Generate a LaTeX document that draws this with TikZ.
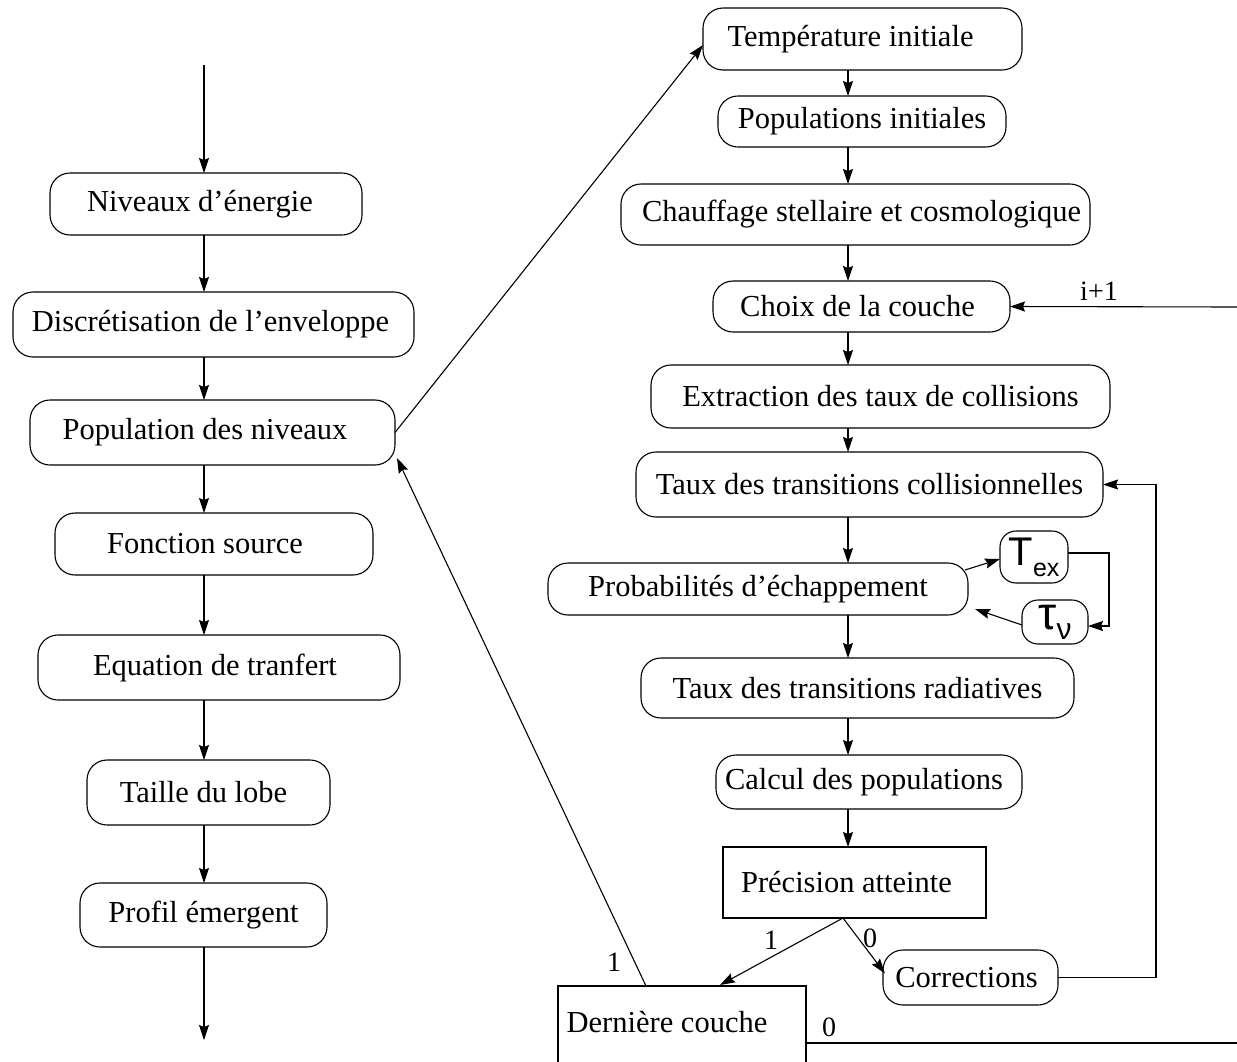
\documentclass[tikz,border=0pt]{standalone}
\usepackage{fontspec}
\setmainfont{Liberation Serif}
\newfontfamily\sff{Liberation Sans}
\usetikzlibrary{arrows.meta,calc}
\newcommand{\shx}[1]{\hspace*{#1pt}}
\begin{document}
\begin{tikzpicture}[x=1pt,y=-1pt,
  every node/.style={inner sep=0pt,outer sep=0pt,font=\fontsize{30.5}{32}\selectfont},
  rbox/.style={draw,line width=1.1pt,rounded corners=20pt},
  sbox/.style={draw,line width=1.1pt},
  arr/.style={line width=1.1pt,-{Stealth[length=15pt,width=10pt,inset=2pt]}},
  ln/.style={line width=1.1pt},
  lab/.style={font=\fontsize{28}{30}\selectfont}]
\useasboundingbox (0,0) rectangle (1237,1061);
% left column
\node[rbox,minimum width=312,minimum height=62] (nive) at (206,204) {\shx{-12}Niveaux d’énergie};
\node[rbox,minimum width=401,minimum height=65] (disc) at (213.5,324.5) {\shx{-6}Discrétisation de l’enveloppe};
\node[rbox,minimum width=365,minimum height=65] (popn) at (212.5,432.5) {\shx{-15}Population des niveaux};
\node[rbox,minimum width=318,minimum height=62] (fons) at (214,544) {\shx{-18}Fonction source};
\node[rbox,minimum width=362,minimum height=65] (equa) at (219,667.5) {\shx{-8}Equation de tranfert};
\node[rbox,minimum width=243,minimum height=65] (tail) at (208.5,792.5) {\shx{-10}Taille du lobe};
\node[rbox,minimum width=247,minimum height=64] (prof) at (203.5,915) {Profil émergent};
\coordinate (xl) at (204,0);
\coordinate (topin) at (204,65);
\coordinate (botout) at (204,1040);
\draw[arr] (topin) -- (nive.north -| xl);
\draw[arr] (nive.south -| xl) -- (disc.north -| xl);
\draw[arr] (disc.south -| xl) -- (popn.north -| xl);
\draw[arr] (popn.south -| xl) -- (fons.north -| xl);
\draw[arr] (fons.south -| xl) -- (equa.north -| xl);
\draw[arr] (equa.south -| xl) -- (tail.north -| xl);
\draw[arr] (tail.south -| xl) -- (prof.north -| xl);
\draw[arr] (prof.south -| xl) -- (botout);
% right column
\node[rbox,minimum width=319,minimum height=62] (temp) at (862.5,39) {\shx{-24}Température initiale};
\node[rbox,minimum width=288,minimum height=51] (popi) at (862,121.5) {Populations initiales};
\node[rbox,minimum width=469,minimum height=61] (chau) at (855.5,214.5) {\shx{12}Chauffage stellaire et cosmologique};
\node[rbox,minimum width=297,minimum height=51] (choi) at (861.5,306.5) {\shx{-8}Choix de la couche};
\node[rbox,minimum width=459,minimum height=63] (extr) at (880.5,396.5) {Extraction des taux de collisions};
\node[rbox,minimum width=467,minimum height=65] (tcol) at (869.5,484.5) {Taux des transitions collisionnelles};
\node[rbox,minimum width=420,minimum height=52] (prob) at (758,589) {Probabilités d’échappement};
\node[rbox,minimum width=433,minimum height=60] (trad) at (857.5,688) {Taux des transitions radiatives};
\node[rbox,minimum width=306,minimum height=54] (calc) at (869,782) {\shx{-10}Calcul des populations};
\node[sbox,minimum width=263,minimum height=71] (prec) at (854.5,882.5) {\shx{-16}Précision atteinte};
\node[rbox,minimum width=175,minimum height=55] (corr) at (970.5,977.5) {\shx{-8}Corrections};
\node[sbox,minimum width=248,minimum height=120,anchor=north] (dern) at (682,986) {};
\node (dernt) at (667,1022) {Dernière couche};
\node[rbox,rounded corners=16pt,minimum width=68,minimum height=52] (tex) at (1034,557) {\sff\fontsize{40}{42}\selectfont T\raisebox{-0.28em}{\fontsize{25}{27}\selectfont ex}};
\node[rbox,rounded corners=16pt,minimum width=66,minimum height=44] (tau) at (1055,622) {\sff\fontsize{46}{48}\selectfont τ\raisebox{-0.22em}{\fontsize{30}{32}\selectfont ν}};
\coordinate (xr) at (848,0);
\draw[arr] (temp.south -| xr) -- (popi.north -| xr);
\draw[arr] (popi.south -| xr) -- (chau.north -| xr);
\draw[arr] (chau.south -| xr) -- (choi.north -| xr);
\draw[arr] (choi.south -| xr) -- (extr.north -| xr);
\draw[arr] (extr.south -| xr) -- (tcol.north -| xr);
\draw[arr] (tcol.south -| xr) -- (prob.north -| xr);
\draw[arr] (prob.south -| xr) -- (trad.north -| xr);
\draw[arr] (trad.south -| xr) -- (calc.north -| xr);
\draw[arr] (calc.south -| xr) -- (prec.north -| xr);
% cross connections
\draw[arr] (popn.east) -- ([yshift=-6pt]temp.west);
\coordinate (dtop) at (646,986);
\draw[arr] (dtop) -- ([shift={(2,-7)}]popn.south east);
\node[lab] (l1a) at (614,962) {1};
\coordinate (pb) at (843,918);
\draw[arr] (pb) -- (720,985);
\node[lab] (l1b) at (771,940) {1};
\draw[arr] (pb) -- ([shift={(2,-4)}]corr.west);
\node[lab] (l0a) at (870,938) {0};
\coordinate (cr) at (1156,0);
\draw[arr] (corr.east) -- (corr.east -| cr) -- (tcol.east -| cr) -- (tcol.east);
\coordinate (iin) at (1237,307);
\draw[arr] (iin) -- (choi.east);
\node[lab] (li) at (1099,291) {i+1};
\coordinate (dr) at (806,1043);
\coordinate (dout) at (1237,1043);
\draw[ln] (dr) -- (dout);
\node[lab] (l0b) at (829,1027) {0};
% Tex / tau loop
\draw[arr] ([shift={(-3,-19)}]prob.east) -- ([yshift=-2pt]tex.west);
\coordinate (lx) at (1109,0);
\draw[arr] ([yshift=4pt]tex.east) -- ([yshift=4pt]tex.east -| lx) -- ([yshift=-4pt]tau.east -| lx) -- ([yshift=-4pt]tau.east);
\draw[arr] ([yshift=-3pt]tau.west) -- ([shift={(7,-3)}]prob.east |- 0,612);
\end{tikzpicture}
\end{document}
